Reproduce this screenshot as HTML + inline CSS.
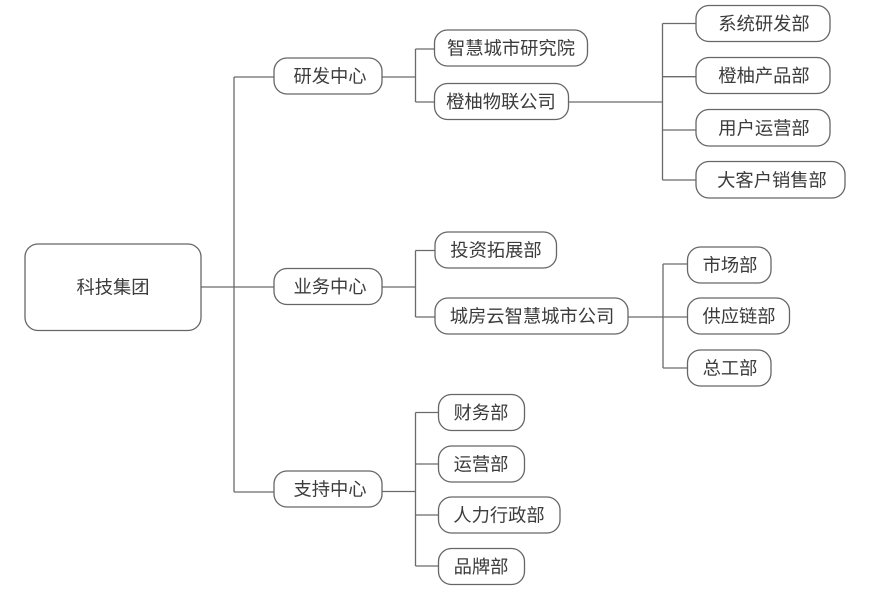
<!DOCTYPE html>
<html><head><meta charset="utf-8"><style>
html,body{margin:0;padding:0;background:#fff;}
svg{display:block;}
text{font-family:"Liberation Sans","Noto Sans CJK SC",sans-serif;font-size:18.3px;fill:#3c3c3c;text-anchor:middle;dominant-baseline:central;}
rect{fill:#fff;stroke:#666;stroke-width:1.3;}
path{fill:none;stroke:#6a6a6a;stroke-width:1.3;}
</style></head><body>
<svg width="870" height="590" viewBox="0 0 870 590" xmlns="http://www.w3.org/2000/svg">
<!-- connectors -->
<path d="M201 287 H274"/>
<path d="M234 77 V492"/>
<path d="M234 77 H274"/>
<path d="M234 492 H274"/>
<!-- 研发中心 -->
<path d="M382 77 H415.5"/>
<path d="M415.5 49 V102 M415.5 49 H434 M415.5 102 H434"/>
<path d="M568 102 H662.5"/>
<path d="M662.5 23.5 V180 M662.5 23.5 H696 M662.5 76.7 H696 M662.5 130 H696 M662.5 180 H696"/>
<!-- 业务中心 -->
<path d="M382 287 H415.5"/>
<path d="M415.5 250.5 V317 M415.5 250.5 H435 M415.5 317 H435"/>
<path d="M628 317 H663"/>
<path d="M663 264 V368 M663 264 H687 M663 317 H687 M663 368 H687"/>
<!-- 支持中心 -->
<path d="M382 491.5 H415.5"/>
<path d="M415.5 412.5 V566 M415.5 412.5 H438 M415.5 464 H438 M415.5 515 H438 M415.5 566 H438"/>

<!-- nodes -->
<rect x="25" y="244" width="176" height="86.5" rx="13"/>
<text x="113" y="287">科技集团</text>

<rect x="274" y="58" width="108" height="36" rx="13"/>
<text x="330" y="76">研发中心</text>
<rect x="274" y="268.5" width="108" height="36" rx="13"/>
<text x="330" y="286.5">业务中心</text>
<rect x="274" y="471" width="108" height="36" rx="13"/>
<text x="330" y="489">支持中心</text>

<rect x="434.5" y="30" width="153" height="36" rx="13"/>
<text x="511" y="48">智慧城市研究院</text>
<rect x="434.5" y="83.5" width="134" height="36" rx="13"/>
<text x="501" y="101.5">橙柚物联公司</text>

<rect x="696" y="5.5" width="134" height="36" rx="13"/>
<text x="764" y="23.5">系统研发部</text>
<rect x="696" y="57.5" width="134" height="36" rx="13"/>
<text x="764" y="75.5">橙柚产品部</text>
<rect x="696" y="109.5" width="134" height="36.5" rx="13"/>
<text x="764" y="128">用户运营部</text>
<rect x="696" y="161.5" width="149" height="36.5" rx="13"/>
<text x="772" y="180">大客户销售部</text>

<rect x="435" y="232" width="121.5" height="36" rx="13"/>
<text x="496" y="250">投资拓展部</text>
<rect x="435" y="298" width="193" height="36" rx="13"/>
<text x="532" y="316">城房云智慧城市公司</text>

<rect x="687.5" y="247" width="83.5" height="36" rx="13"/>
<text x="730" y="265">市场部</text>
<rect x="687.5" y="298" width="102" height="36" rx="13"/>
<text x="739" y="316">供应链部</text>
<rect x="687.5" y="350" width="83.5" height="36" rx="13"/>
<text x="730" y="368">总工部</text>

<rect x="438.5" y="394.5" width="86" height="36" rx="13"/>
<text x="481" y="412.5">财务部</text>
<rect x="438.5" y="446" width="86" height="36" rx="13"/>
<text x="481" y="464">运营部</text>
<rect x="438.5" y="497" width="121.5" height="36" rx="13"/>
<text x="499" y="515">人力行政部</text>
<rect x="438.5" y="548.5" width="86" height="36" rx="13"/>
<text x="481" y="566.5">品牌部</text>
</svg>
</body></html>
